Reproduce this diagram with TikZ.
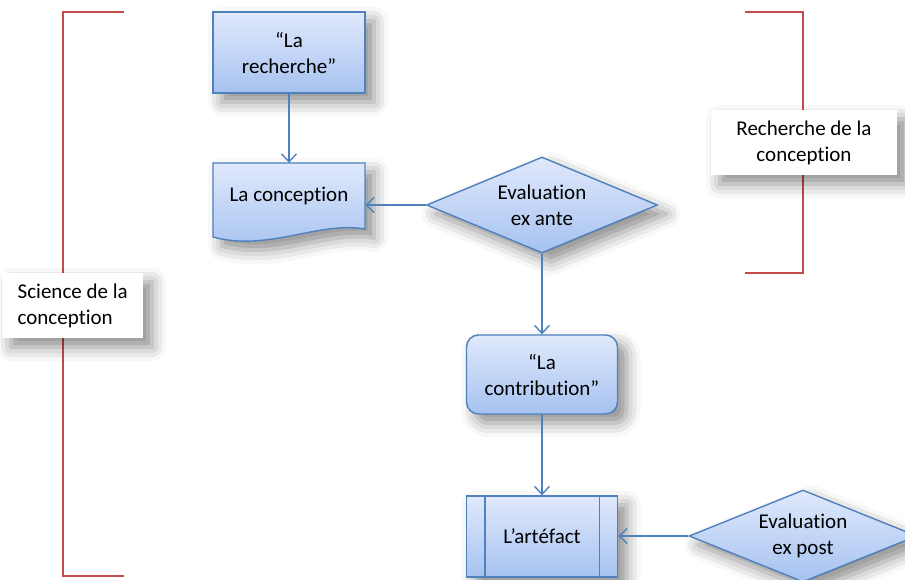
\documentclass[tikz,border=0pt]{standalone}
\usepackage{fontspec}
\setmainfont{Carlito}[RawFeature={-liga;-clig;-calt;-dlig}]
\usetikzlibrary{arrows.meta,shapes.geometric,shadows.blur}
\definecolor{boxline}{RGB}{79,129,189}
\definecolor{filltop}{RGB}{224,233,252}
\definecolor{fillbot}{RGB}{166,194,240}
\definecolor{brk}{RGB}{200,75,75}
\newcommand\diafont{\fontsize{21pt}{26pt}\selectfont}
\tikzset{
  shad/.style={blur shadow={shadow xshift=9pt, shadow yshift=-9pt, shadow blur radius=14pt, shadow opacity=45}},
  shapefill/.style={draw=boxline, line width=1.4pt, top color=filltop, bottom color=fillbot, shad},
  flowbox/.style={shapefill, minimum width=152pt, inner sep=0pt, align=center, font=\diafont},
  flowdia/.style={shapefill, diamond, inner sep=0pt, align=center, font=\diafont},
  conn/.style={draw=boxline, line width=1.4pt, -{Straight Barb[length=8pt,width=15pt,line width=1.4pt]}},
  bracket/.style={draw=brk, line width=1.6pt},
  labelbox/.style={fill=white, shad, font=\diafont, inner sep=0pt, minimum height=65pt}
}
\begin{document}
\begin{tikzpicture}[x=1pt,y=-1pt]
\useasboundingbox (0,0) rectangle (905,579);
% brackets
\draw[bracket] (124,12) -- (63,12) -- (63,576) -- (124,576);
\draw[bracket] (745,12) -- (803,12) -- (803,273) -- (745,273);
% La recherche
\node[flowbox, minimum height=81pt] (rech) at (289,52.5) {“La\\recherche”};
% La conception (document shape)
\path[shapefill] (213,163) -- (365,163) -- (365,229)
  .. controls (318,221) and (268,252) .. (213,237) -- cycle;
\node[minimum width=152pt, minimum height=66pt, inner sep=0pt, font=\diafont] (conc) at (289,196) {La concept\kern0pt ion};
% Evaluation ex ante
\node[flowdia, minimum width=231pt, minimum height=96pt, shape aspect=2.4] (ea) at (542,205) {Evaluat\kern0pt ion\\ex ante};
% La contribution
\node[flowbox, rounded corners=12pt, minimum width=151pt, minimum height=79pt] (contrib) at (542,374.5) {“La\\contribut\kern0pt ion”};
% L'artefact
\node[flowbox, minimum width=151pt, minimum height=81pt] (art) at (542,536.5) {L’artéfact};
\draw[boxline, line width=1.4pt] ([xshift=19pt]art.north west) -- ([xshift=19pt]art.south west);
\draw[boxline, line width=1.4pt] ([xshift=-19pt]art.north east) -- ([xshift=-19pt]art.south east);
% Evaluation ex post
\node[flowdia, minimum width=228pt, minimum height=92pt, shape aspect=2.48] (ep) at (803,536) {Evaluat\kern0pt ion\\ex post};
% connectors
\draw[conn] (rech.south) -- (conc.north);
\draw[conn] (ea.west) -- (conc.east |- ea.west);
\draw[conn] (ea.south) -- (contrib.north);
\draw[conn] (contrib.south) -- (art.north);
\draw[conn] (ep.west) -- (art.east |- ep.west);
% labels
\node[labelbox, minimum width=141pt, inner xsep=13pt, align=left, anchor=west] (sci) at (2,305.5) {Science de la\\concept\kern0pt ion};
\node[labelbox, minimum width=186pt, align=center] (rdc) at (804,142.5) {Recherche de la\\concept\kern0pt ion};
\end{tikzpicture}
\end{document}
